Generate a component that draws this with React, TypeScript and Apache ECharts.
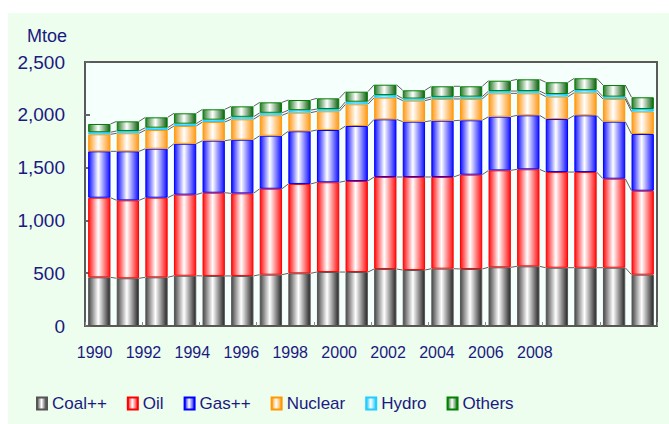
import React, { useEffect, useRef } from "react";
import * as echarts from "echarts";

const years = ["1990","1991","1992","1993","1994","1995","1996","1997","1998","1999","2000","2001","2002","2003","2004","2005","2006","2007","2008","2009"];
const coal = [461,452,461,476,474,474,486,499,511,511,540,530,543,540,556,565,552,552,552,486];
const oil = [754,738,754,768,788,782,814,846,850,862,871,881,868,893,918,919,906,906,843,795];
const gas = [439,464,464,482,493,508,502,499,495,521,546,524,533,515,508,511,502,537,540,537];
const nuclear = [161,171,177,168,177,193,193,176,177,205,205,199,206,202,221,208,212,215,215,212];
const hydro = [20,22,22,22,22,24,24,24,22,25,25,20,20,22,22,22,25,25,22,25];
const others = [78,91,98,98,98,99,99,96,101,95,98,78,100,98,98,111,111,111,110,111];
const seriesNames = ["Coal++","Oil","Gas++","Nuclear","Hydro","Others"];
const yTicks = [0, 500, 1000, 1500, 2000, 2500];

const NAVY = "#1a1a80";
const FONT = "Liberation Sans, Arial, sans-serif";
const BAR_RATIO = 0.78;

function grad(c: string, c2?: string) {
  return new echarts.graphic.LinearGradient(0, 0, 1, 0, [
    { offset: 0, color: c },
    { offset: 0.45, color: "#ffffff" },
    { offset: 1, color: c2 || c },
  ]);
}

export default function App() {
  const ref = useRef<HTMLDivElement>(null);
  useEffect(() => {
    if (!ref.current) return;
    const chart = echarts.init(ref.current, undefined, { renderer: "svg" });
    const all = [coal, oil, gas, nuclear, hydro, others];
    const cum = years.map((_, i) => {
      let s = 0;
      return all.map((arr) => (s += arr[i]));
    });
    const linkData = years.slice(0, -1).map((_, i) => [i, ...cum[i], ...cum[i + 1]]);
    const styles = [
      { fill: grad("#4a4a4a", "#262626"), border: "#555555" },
      { fill: grad("#ff1010"), border: "#ff0000" },
      { fill: grad("#1010ff"), border: "#0000ff" },
      { fill: grad("#ff9a1a"), border: "#ff9900" },
      { fill: grad("#10c8ff"), border: "#22ccff" },
      { fill: grad("#2a7a2a", "#106010"), border: "#008000" },
    ];
    const barSeries = all.map((arr, k) => ({
      name: seriesNames[k],
      type: "bar",
      stack: "total",
      xAxisIndex: 0,
      yAxisIndex: 0,
      barWidth: BAR_RATIO * 100 + "%",
      data: arr,
      itemStyle: { color: styles[k].fill, borderColor: styles[k].border, borderWidth: 1 },
      emphasis: { disabled: true },
    }));
    chart.setOption({
      animation: false,
      backgroundColor: "#edfdee",
      title: {
        text: "Mtoe",
        left: 19,
        top: 14,
        padding: 0,
        textStyle: { color: NAVY, fontSize: 18, fontWeight: "normal", fontFamily: FONT },
      },
      legend: {
        data: seriesNames,
        left: 23,
        top: 377,
        icon: "rect",
        itemWidth: 10,
        itemHeight: 12,
        itemGap: 20,
        textStyle: { color: NAVY, fontSize: 17, fontFamily: FONT },
      },
      grid: [
        { left: 77, right: 12, top: 49, bottom: 98, show: true, backgroundColor: "#f5fffc", borderColor: "#5a5a5a", borderWidth: 2 },
        { left: 74.3, width: 489.2, top: 49, bottom: 98, show: false },
      ],
      xAxis: [
        {
          type: "category",
          gridIndex: 0,
          data: years,
          axisLine: { show: false },
          axisTick: { show: true, inside: true, length: 4, lineStyle: { color: "#888888", width: 1 } },
          axisLabel: { show: false },
        },
        {
          type: "category",
          gridIndex: 1,
          data: years,
          axisLine: { show: false },
          axisTick: { show: false },
          axisLabel: { interval: 1, color: NAVY, fontSize: 16, margin: 18, fontFamily: FONT },
        },
      ],
      yAxis: [
        {
          type: "value",
          gridIndex: 0,
          min: yTicks[0],
          max: yTicks[yTicks.length - 1],
          interval: 500,
          splitLine: { show: false },
          axisLine: { show: false },
          axisTick: { show: true, inside: true, length: 5, lineStyle: { color: "#666666", width: 2 } },
          axisLabel: {
            margin: 20,
            color: NAVY,
            fontSize: 19,
            fontFamily: FONT,
            formatter: (v: number) => v.toLocaleString("en-US"),
          },
        },
        { type: "value", gridIndex: 1, show: false, min: 0, max: 1 },
      ],
      series: [
        ...barSeries,
        {
          type: "custom",
          xAxisIndex: 0,
          yAxisIndex: 0,
          silent: true,
          z: 3,
          data: linkData,
          renderItem: (params: any, api: any) => {
            const i = api.value(0);
            const half = (api.size([1, 0])[0] * BAR_RATIO) / 2;
            const children: any[] = [];
            for (let k = 0; k < 6; k++) {
              const p0 = api.coord([i, api.value(1 + k)]);
              const p1 = api.coord([i + 1, api.value(7 + k)]);
              children.push({
                type: "line",
                shape: { x1: p0[0] + half, y1: p0[1], x2: p1[0] - half, y2: p1[1] },
                style: { stroke: "#606060", lineWidth: 1 },
              });
            }
            return { type: "group", children };
          },
        },
      ],
    });
    return () => chart.dispose();
  }, []);
  return (
    <div style={{ position: "absolute", left: 0, top: 0, width: 669, height: 424, background: "#ffffff" }}>
      <div ref={ref} style={{ position: "absolute", left: 8, top: 13, width: 661, height: 411 }} />
    </div>
  );
}
